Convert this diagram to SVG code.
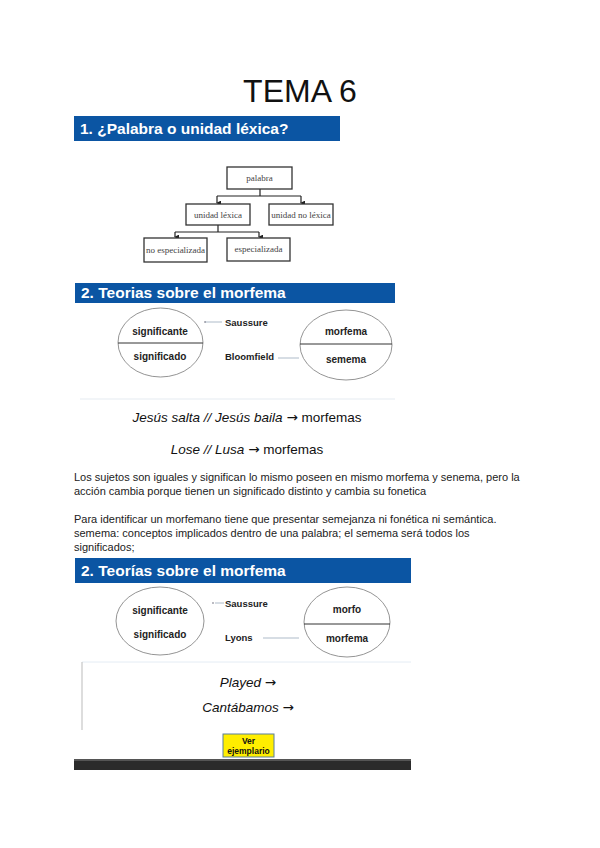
<svg xmlns="http://www.w3.org/2000/svg" width="600" height="848" viewBox="0 0 600 848">
<style>
text{font-family:"Liberation Sans",Arial,sans-serif;fill:#111}
.title{font-size:32px}
.ban{fill:#0b55a3}
.bant{fill:#fff;font-weight:bold;font-size:15.5px}
.tbox{fill:#fff;stroke:#333;stroke-width:1.3}
.tt{font-family:"Liberation Serif","Times New Roman",serif;font-size:9px;fill:#444;text-anchor:middle}
.tl{fill:none;stroke:#222;stroke-width:1.2}
.ell{fill:#fff;stroke:#888;stroke-width:0.9}
.el{stroke:#333;stroke-width:1}
.et{font-size:10px;font-weight:bold;text-anchor:middle;fill:#222}
.nm{font-size:9.5px;font-weight:bold;fill:#222}
.cl{stroke:#9ab;stroke-width:0.8}
.ex{font-size:13.5px;text-anchor:middle;fill:#111}
.ar{font-family:"DejaVu Sans",sans-serif}
.p{font-size:11px;fill:#222}
</style>
<defs>
<marker id="ah" viewBox="0 0 6 6" refX="3" refY="5" markerWidth="4" markerHeight="4" orient="auto-start-reverse"><path d="M0,0 L6,0 L3,6 z" fill="#222"/></marker>
</defs>
<rect width="600" height="848" fill="#fff"/>
<text class="title" x="300" y="102" text-anchor="middle">TEMA 6</text>

<g id="banner1"><rect class="ban" x="74" y="116" width="266" height="25"/><text class="bant" x="80" y="134">1. ¿Palabra o unidad léxica?</text></g>

<g id="connectors">
<path class="tl" d="M260,189 V196 M217,196 H301"/>
<line class="tl" x1="217" y1="196" x2="217" y2="203" marker-end="url(#ah)"/>
<line class="tl" x1="301" y1="196" x2="301" y2="203" marker-end="url(#ah)"/>
<path class="tl" d="M218,225 V232 M175,232 H259"/>
<line class="tl" x1="175" y1="232" x2="175" y2="237" marker-end="url(#ah)"/>
<line class="tl" x1="259" y1="232" x2="259" y2="237" marker-end="url(#ah)"/>
<line class="cl" x1="205" y1="322" x2="222" y2="322"/>
<circle cx="205" cy="322" r="0.8" fill="#667"/>
<line class="cl" x1="278" y1="358" x2="299" y2="358"/>
<line class="cl" x1="215" y1="603" x2="224" y2="603"/>
<circle cx="213" cy="603" r="0.8" fill="#667"/>
<line class="cl" x1="263" y1="638" x2="299" y2="638"/>
</g>

<g id="n-palabra"><rect class="tbox" x="227" y="167" width="65" height="22"/><text class="tt" x="259.5" y="181">palabra</text></g>
<g id="n-unidad-lexica"><rect class="tbox" x="186" y="204" width="64" height="21"/><text class="tt" x="218" y="218">unidad léxica</text></g>
<g id="n-unidad-no-lexica"><rect class="tbox" x="269" y="204" width="64" height="21"/><text class="tt" x="301" y="218">unidad no léxica</text></g>
<g id="n-no-especializada"><rect class="tbox" x="144" y="238" width="63" height="24"/><text class="tt" x="175.5" y="253">no especializada</text></g>
<g id="n-especializada"><rect class="tbox" x="227" y="238" width="63" height="23"/><text class="tt" x="258.5" y="252">especializada</text></g>

<g id="banner2"><rect class="ban" x="75" y="283" width="320" height="20"/><text class="bant" x="81" y="298">2. Teorias sobre el morfema</text></g>

<g id="ellipse-signo1"><ellipse class="ell" cx="160.5" cy="342.5" rx="42.5" ry="34.5"/><line class="el" x1="118" y1="343" x2="203" y2="343"/><text class="et" x="160" y="335">significante</text><text class="et" x="160" y="360">significado</text></g>
<g id="n-saussure1"><text class="nm" x="225" y="326">Saussure</text></g>
<g id="n-bloomfield"><text class="nm" x="225" y="360">Bloomfield</text></g>
<g id="ellipse-morfema1"><ellipse class="ell" cx="346" cy="345" rx="46" ry="35"/><line class="el" x1="300" y1="344" x2="392" y2="344"/><text class="et" x="346" y="335">morfema</text><text class="et" x="346" y="363">semema</text></g>

<g id="ejemplos1">
<path d="M80,399 H395" stroke="#eef2f6" stroke-width="1.5"/>
<text class="ex" x="247" y="422"><tspan font-style="italic">Jesús salta // Jesús baila</tspan> <tspan class="ar">→</tspan> morfemas</text>
<text class="ex" x="247" y="454"><tspan font-style="italic">Lose // Lusa</tspan> <tspan class="ar">→</tspan> morfemas</text>
</g>

<g id="parrafo">
<text class="p" x="74" y="481">Los sujetos son iguales y significan lo mismo poseen en mismo morfema y senema, pero la</text>
<text class="p" x="74" y="495">acción cambia porque tienen un significado distinto y cambia su fonetica</text>
<text class="p" x="74" y="523">Para identificar un morfemano tiene que presentar semejanza ni fonética ni semántica.</text>
<text class="p" x="74" y="537">semema: conceptos implicados dentro de una palabra; el semema será todos los</text>
<text class="p" x="74" y="551">significados;</text>
</g>

<g id="banner3"><rect class="ban" x="75" y="558" width="336" height="25"/><text class="bant" x="81" y="576">2. Teorías sobre el morfema</text></g>

<g id="ellipse-signo2"><ellipse class="ell" cx="160" cy="621" rx="44" ry="34"/><text class="et" x="160" y="614">significante</text><text class="et" x="160" y="638">significado</text></g>
<g id="n-saussure2"><text class="nm" x="225" y="607">Saussure</text></g>
<g id="n-lyons"><text class="nm" x="225" y="641">Lyons</text></g>
<g id="ellipse-morfo"><ellipse class="ell" cx="347" cy="622" rx="43" ry="35"/><line class="el" x1="304" y1="624" x2="390" y2="624"/><text class="et" x="347" y="613">morfo</text><text class="et" x="347" y="642">morfema</text></g>

<g id="ejemplos2">
<path d="M82,662 H411" stroke="#e4ecf4" stroke-width="1"/>
<line x1="82" y1="662" x2="82" y2="730" stroke="#bbb" stroke-width="1"/>
<text class="ex" x="248" y="687" font-size="11.5"><tspan font-style="italic">Played</tspan> <tspan class="ar">→</tspan></text>
<text class="ex" x="248" y="712" font-size="11.5"><tspan font-style="italic">Cantábamos</tspan> <tspan class="ar">→</tspan></text>
</g>

<g id="btn-ejemplario"><rect x="223" y="734" width="51" height="23" fill="#ffee00" stroke="#5a7f9a" stroke-width="1"/><text x="248.5" y="744" font-size="8.5" font-weight="bold" text-anchor="middle">Ver</text><text x="248.5" y="754" font-size="8.5" font-weight="bold" text-anchor="middle">ejemplario</text></g>

<rect x="74" y="759" width="337" height="11" fill="#2b2b2b"/>
<rect x="74" y="759" width="337" height="2" fill="#555"/>
</svg>
